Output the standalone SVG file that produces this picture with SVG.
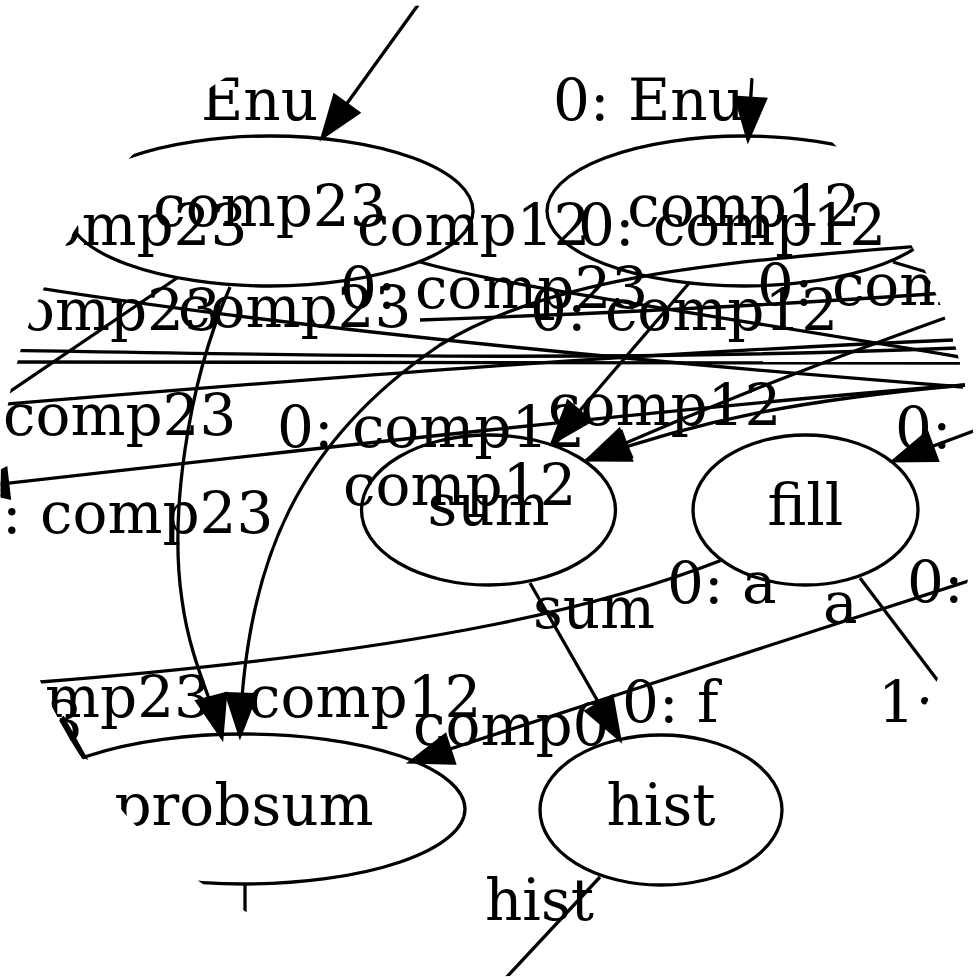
<svg xmlns="http://www.w3.org/2000/svg" width="977" height="977" viewBox="0 0 977 977">
<defs>
<clipPath id="view"><circle cx="488.5" cy="488.5" r="488"/></clipPath>
<marker id="ah" markerUnits="userSpaceOnUse" markerWidth="46" markerHeight="34" refX="42" refY="15" orient="auto" overflow="visible">
<path d="M0,0 L42,15 L0,30 z" fill="#000" stroke="#000" stroke-width="3" stroke-linejoin="miter"/>
</marker>
<style>
.n ellipse{fill:none;stroke:#000;stroke-width:3.3}
text{font-family:"DejaVu Serif","Liberation Serif",serif;font-size:58px;fill:#000}
.n text{text-anchor:middle}
.e path{fill:none;stroke:#000;stroke-width:3.3}
.a{marker-end:url(#ah)}
</style>
</defs>
<rect width="977" height="977" fill="#fff"/>
<g clip-path="url(#view)">
<g id="edges" class="e">
<path class="a" d="M418,5 L322,138"/>
<path class="a" d="M752,78 L748,140"/>
<path class="a" d="M230,287 C185,390 170,520 182,600 C190,660 212,700 222,738"/>
<path class="a" d="M930,245 C760,260 560,270 440,345 C300,440 245,560 240,736"/>
<path d="M177,278 L-10,405"/>
<path d="M420,262 C500,285 650,305 960,357"/>
<path d="M420,320 C560,315 750,307 945,293"/>
<path d="M-5,281 C200,315 490,350 963,387"/>
<path d="M-5,350 C300,355 600,362 957,348"/>
<path d="M-5,362 L960,363"/>
<path d="M-5,405 C300,380 600,355 953,340"/>
<path class="a" d="M965,385 C700,405 300,450 -34,488"/>
<path class="a" d="M690,282 L552,443"/>
<path class="a" d="M945,318 C800,370 700,410 587,460"/>
<path class="a" d="M965,385 C800,400 700,420 587,460"/>
<path class="a" d="M530,583 L620,740"/>
<path class="a" d="M990,574 C850,620 600,700 410,762"/>
<path d="M722,560 C620,600 450,650 40,682 L-10,684"/>
<path d="M860,578 L960,710"/>
<path class="a" d="M990,425 L893,461"/>
<path d="M600,877 L490,995"/>
<path d="M245,885 L245,940"/>
<path d="M893,262 L960,282"/>
<path class="a" d="M20,700 L85,757"/>
</g>
<g id="edge-labels">
<text x="201" y="120">Enu</text>
<text x="553" y="120">0: Enu</text>
<text x="14" y="245">comp23</text>
<text x="357" y="245">comp12</text>
<text x="578" y="245">0: comp12</text>
<text x="340" y="308">0: comp23</text>
<text x="530" y="330">0: comp12</text>
<text x="757" y="305">0: com</text>
<text x="20" y="330">omp23</text>
<text x="178" y="327">comp23</text>
<text x="3" y="435">comp23</text>
<text x="2" y="533">: comp23</text>
<text x="277" y="447">0: comp12</text>
<text x="548" y="425">comp12</text>
<text x="343" y="505">comp12</text>
<text x="895" y="448">0:</text>
<text x="667" y="603">0: a</text>
<text x="823" y="623">a</text>
<text x="907" y="602">0:</text>
<text x="533" y="628">sum</text>
<text x="622" y="722">0: f</text>
<text x="878" y="722">1:</text>
<text x="45" y="717">mp23</text>
<text x="248" y="717">comp12</text>
<text x="46" y="742">3</text>
<text x="413" y="745">comp0</text>
<text x="485" y="920">hist</text>
</g>
<g id="comp23" class="n"><ellipse cx="270" cy="211" rx="203" ry="75"/><text x="270" y="226">comp23</text></g>
<g id="comp12" class="n"><ellipse cx="744" cy="211" rx="197" ry="75"/><text x="744" y="226">comp12</text></g>
<g id="sum" class="n"><ellipse cx="488.5" cy="510" rx="127" ry="75"/><text x="488.5" y="525">sum</text></g>
<g id="fill" class="n"><ellipse cx="805.5" cy="510" rx="112.5" ry="75"/><text x="805.5" y="525">fill</text></g>
<g id="probsum" class="n"><ellipse cx="244" cy="809" rx="221" ry="75"/><text x="244" y="825">probsum</text></g>
<g id="hist" class="n"><ellipse cx="661" cy="810" rx="121" ry="75"/><text x="661" y="825">hist</text></g>
</g>
</svg>
